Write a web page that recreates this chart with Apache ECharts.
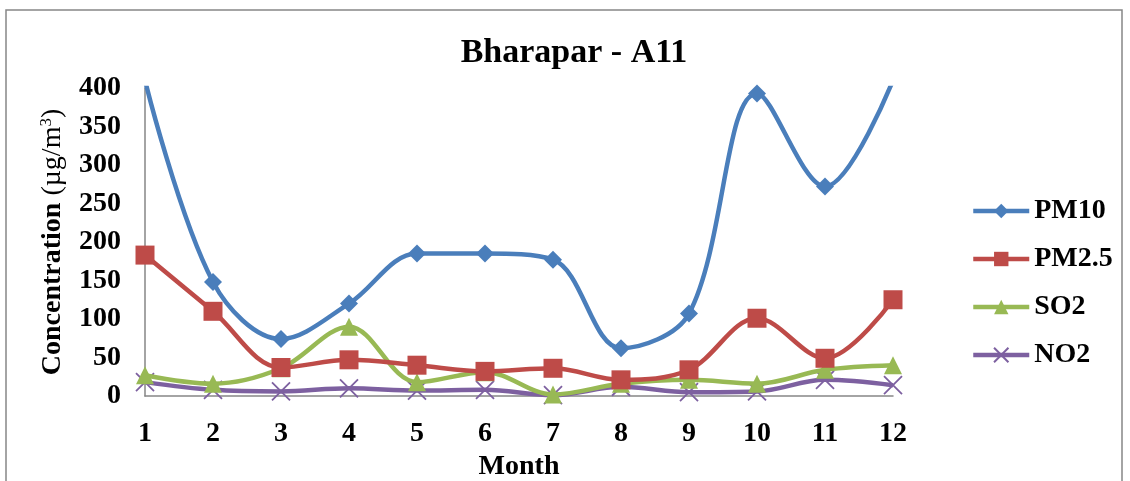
<!DOCTYPE html>
<html><head><meta charset="utf-8">
<script src="https://cdn.jsdelivr.net/npm/echarts@6/dist/echarts.min.js"></script>
<style>html,body{margin:0;padding:0;background:#fff}#c{width:1130px;height:481px}</style>
</head><body><div id="c"></div>
<script>
const months = ['1','2','3','4','5','6','7','8','9','10','11','12'];
const pm10 = [410, 148, 74, 120, 185, 185, 177, 62, 107, 393, 272, 410];
const pm25 = [183, 110, 37, 47, 40, 32, 36, 21, 34, 101, 49, 125];
const so2 = [27, 16, 36, 90, 18, 31, 2, 16, 21, 16, 34, 40];
const no2 = [18, 8, 6, 10, 7, 8, 1, 12, 5, 6, 21, 14];
const seriesNames = ['PM10', 'PM2.5', 'SO2', 'NO2'];
const yTicks = {min: 0, max: 400, interval: 50};

const font = '"Liberation Serif", "Times New Roman", serif';
const colors = ['#4A7EBB', '#BE4B48', '#98B954', '#7D60A0'];
const symbols = ['diamond', 'rect', 'triangle', 'path://M0,0L10,10M10,0L0,10'];
const sizes = [18, 19, 18, 18];
const dataSets = [pm10, pm25, so2, no2];

const chart = echarts.init(document.getElementById('c'), null, {renderer: 'canvas'});
chart.setOption({
  animation: false,
  backgroundColor: '#fff',
  graphic: [{type: 'rect', shape: {x: 6, y: 10, width: 1116, height: 490},
    style: {fill: 'none', stroke: '#868686', lineWidth: 1.5}, silent: true}],
  title: {text: 'Bharapar - A11', left: 569, top: 31, textAlign: 'center',
    textStyle: {fontFamily: font, fontWeight: 'bold', fontSize: 34, color: '#000'}},
  grid: {left: 145, right: 237, top: 88, bottom: 85, containLabel: false, outerBoundsMode: 'none'},
  legend: {orient: 'vertical', left: 966, top: 192, itemGap: 20, itemWidth: 56, itemHeight: 18,
    data: seriesNames, lineStyle: {width: 4.5},
    textStyle: {fontFamily: font, fontWeight: 'bold', fontSize: 28, color: '#000'}},
  xAxis: {type: 'category', data: months, boundaryGap: false,
    name: 'Month', nameLocation: 'middle', nameGap: 54,
    nameTextStyle: {fontFamily: font, fontWeight: 'bold', fontSize: 28, color: '#000'},
    axisLine: {lineStyle: {color: '#868686', width: 1.5}},
    axisTick: {show: false},
    axisLabel: {fontFamily: font, fontWeight: 'bold', fontSize: 28, color: '#000', margin: 24}},
  yAxis: {type: 'value', min: yTicks.min, max: yTicks.max, interval: yTicks.interval,
    name: '{b|Concentration }{n|(µg/m}{s|3}{n|)}', nameLocation: 'middle', nameGap: 78,
    nameTextStyle: {rich: {
      b: {fontFamily: font, fontWeight: 'bold', fontSize: 28, color: '#000'},
      n: {fontFamily: font, fontSize: 28, color: '#000'},
      s: {fontFamily: font, fontSize: 17, color: '#000', verticalAlign: 'top', padding: [0,0,12,0]}}},
    axisLine: {show: true, lineStyle: {color: '#868686', width: 1.5}},
    axisTick: {show: false}, splitLine: {show: false},
    axisLabel: {fontFamily: font, fontWeight: 'bold', fontSize: 28, color: '#000', margin: 24}},
  series: seriesNames.map((n, i) => ({
    name: n, type: 'line', data: dataSets[i], smooth: 0.35, clip: true,
    symbol: symbols[i], symbolSize: sizes[i], showAllSymbol: true,
    lineStyle: {color: colors[i], width: 4.5},
    itemStyle: i === 3 ? {color: colors[i], borderColor: colors[i], borderWidth: 1.8}
                       : {color: colors[i], borderColor: colors[i], borderWidth: 0},
    z: 10 - i
  }))
});
</script></body></html>
